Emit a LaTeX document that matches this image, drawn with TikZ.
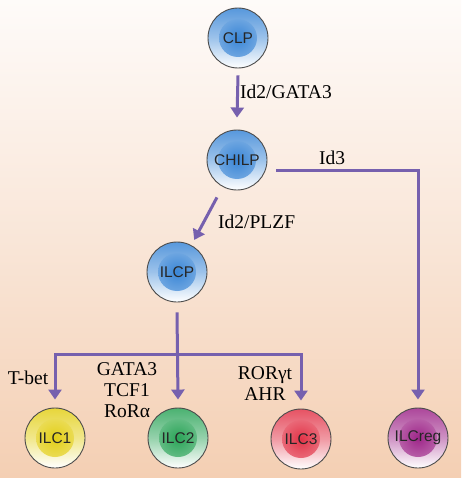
\documentclass[tikz,border=0pt]{standalone}
\usepackage{fontspec}
\setmainfont{Liberation Serif}
\setsansfont{Liberation Sans}
\usetikzlibrary{arrows.meta}
\definecolor{arrc}{HTML}{7660AE}
\definecolor{bgtop}{HTML}{FEFBF9}
\definecolor{bgmid}{HTML}{F9E6D8}
\definecolor{bgbot}{HTML}{F4CFB3}
\definecolor{cblue}{HTML}{3A86D6}
\definecolor{cyellow}{HTML}{E3CF18}
\definecolor{cgreen}{HTML}{2BA458}
\definecolor{cred}{HTML}{E23448}
\definecolor{cpurple}{HTML}{9E2689}
\begin{document}
\begin{tikzpicture}[x=1pt,y=-1pt,
  cell/.style={circle, draw=black!70, line width=0.9pt, minimum size=60pt, inner sep=0pt,
    top color=#1!85!white, bottom color=white, middle color=#1!50!white,
    path picture={\shade[inner color=#1, outer color=#1!60!white]
      (path picture bounding box.center) circle (19pt);},
    font=\sffamily\fontsize{15.5}{15.5}\selectfont, text=black!85},
  arr/.style={draw=arrc, line width=3pt, -{Triangle[length=10pt,width=13pt]}},
  lbl/.style={font=\fontsize{19.5}{21}\selectfont, align=center, inner sep=0pt}]
\shade[top color=bgtop, bottom color=bgbot, middle color=bgmid] (0,0) rectangle (461,478);
\useasboundingbox (0,0) rectangle (461,478);

\node[cell=cblue] (clp) at (238,38) {CLP};
\node[cell=cblue] (chilp) at (237,160) {CHILP};
\node[cell=cblue] (ilcp) at (177,272) {ILCP};
\node[cell=cyellow] (ilc1) at (55,438) {ILC1};
\node[cell=cgreen] (ilc2) at (178,438) {ILC2};
\node[cell=cred] (ilc3) at (301,439) {ILC3};
\node[cell=cpurple] (ilcreg) at (418,438) {ILCreg};

\coordinate (br) at (178,354);

\draw[arr] ([yshift=-7pt]clp.south) -- ([yshift=12pt]chilp.north);
\draw[arr] ([shift={(9pt,-11pt)}]chilp.east) -| ([yshift=8pt]ilcreg.north);
\draw[arr, shorten <=12pt, shorten >=6pt] (chilp) -- (ilcp);
\draw[arr] ([yshift=-10pt]ilcp.south) -- ([yshift=8pt]ilc2.north);
\draw[arr] (br) -| ([yshift=8pt]ilc1.north);
\draw[arr] (br) -| ([yshift=8pt]ilc3.north);

\node[lbl, anchor=west] (l1) at (240,92) {Id2/GATA3};
\node[lbl] (l2) at (332,158) {Id3};
\node[lbl, anchor=west] (l3) at (218,222) {Id2/PLZF};
\node[lbl] (l4) at (28,378) {T-bet};
\node[lbl] (l5) at (127,390) {GATA3\\TCF1\\RoRα};
\node[lbl] (l6) at (265,384) {RORγt\\AHR};
\end{tikzpicture}
\end{document}
